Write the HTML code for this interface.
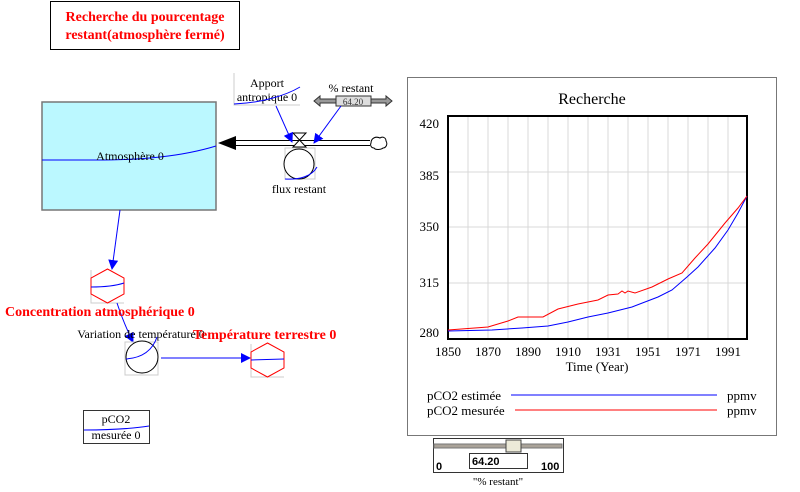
<!DOCTYPE html>
<html><head><meta charset="utf-8"><style>
html,body{margin:0;padding:0;background:#fff;}
svg{display:block;font-family:"Liberation Serif",serif;}
</style></head><body>
<svg width="800" height="492" viewBox="0 0 800 492" xmlns="http://www.w3.org/2000/svg">
<defs>
<marker id="ab" markerWidth="10" markerHeight="10" refX="9" refY="5" orient="auto" markerUnits="userSpaceOnUse"><path d="M0,0 L10,5 L0,10 z" fill="#0000ff"/></marker>
</defs>
<!-- title -->
<rect x="50.5" y="1.5" width="189" height="48" fill="#fff" stroke="#000"/>
<text x="145" y="21" text-anchor="middle" font-size="14" font-weight="bold" fill="#ff0000">Recherche du pourcentage</text>
<text x="145" y="39" text-anchor="middle" font-size="14" font-weight="bold" fill="#ff0000">restant(atmosphère fermé)</text>

<!-- stock -->
<rect x="42" y="102" width="174" height="108" fill="#bbf8ff" stroke="#777" stroke-width="1.5"/>
<path d="M42,160 L95,160 C140,160 180,157 216,146" fill="none" stroke="#0000ff"/>
<text x="130" y="160" text-anchor="middle" font-size="12">Atmosphère 0</text>

<!-- flow pipe -->
<line x1="232" y1="140.5" x2="370" y2="140.5" stroke="#000"/>
<line x1="232" y1="145.5" x2="370" y2="145.5" stroke="#000"/>
<path d="M218,143 L236,136 L236,150 z" fill="#000"/>
<path d="M371,143 c0,-5 5,-7 9,-5 c3,-2 6,0 6,3 c2,3 0,7 -3,7 c-2,2 -8,2 -9,0 c-3,0 -4,-3 -3,-5z" fill="#fff" stroke="#000"/>
<path d="M293,133 L306,133 L293,147 L306,147 z" fill="#fff" stroke="#000"/>
<rect x="285" y="148" width="30" height="31" fill="none" stroke="#ccc"/>
<circle cx="299" cy="164" r="15" fill="#fff" stroke="#000"/>
<path d="M285,179 C300,180 312,176 317,167" fill="none" stroke="#0000ff"/>
<text x="299" y="193" text-anchor="middle" font-size="12">flux restant</text>

<!-- Apport -->
<path d="M234,73 L234,105 L300,105" fill="none" stroke="#ccc"/>
<text x="267" y="87" text-anchor="middle" font-size="12">Apport</text>
<text x="267" y="101" text-anchor="middle" font-size="12">antropique 0</text>
<path d="M234,104 C260,103 285,96 300,87" fill="none" stroke="#0000ff"/>
<line x1="276" y1="106" x2="292" y2="142" stroke="#0000ff" marker-end="url(#ab)"/>

<!-- % restant -->
<text x="351" y="92" text-anchor="middle" font-size="12">% restant</text>
<path d="M314,101 L320,96 L320,99 L386,99 L386,96 L392,101 L386,106 L386,103 L320,103 L320,106 z" fill="#999" stroke="#333"/>
<rect x="336" y="96" width="35" height="10" fill="#ddd" stroke="#333"/>
<text x="353" y="105" text-anchor="middle" font-size="9" fill="#333">64.20</text>
<line x1="341" y1="106" x2="314" y2="143" stroke="#0000ff" marker-end="url(#ab)"/>

<!-- stock to concentration -->
<line x1="120" y1="210" x2="112" y2="269" stroke="#0000ff" marker-end="url(#ab)"/>

<!-- Concentration hex -->
<path d="M91,270 L91,303 L124,303" fill="none" stroke="#ccc"/>
<path d="M107.5,269 L124,278 L124,294 L107.5,303 L91,294 L91,278 z" fill="#fff" stroke="#ff0000"/>
<path d="M91,287 C105,287 115,286 124,283" fill="none" stroke="#0000ff"/>
<path d="M117,303 C122,318 127,330 133,342" fill="none" stroke="#0000ff" marker-end="url(#ab)"/>

<!-- Variation -->
<text x="141" y="338" text-anchor="middle" font-size="12">Variation de température 0</text>
<rect x="125" y="342" width="33" height="33" fill="none" stroke="#ccc"/>
<circle cx="142" cy="357" r="16" fill="#fff" stroke="#000"/>
<path d="M126,359 C140,358 152,352 157,337" fill="none" stroke="#0000ff"/>
<text x="5" y="316" font-size="14" font-weight="bold" fill="#ff0000">Concentration atmosphérique 0</text>
<line x1="161" y1="358" x2="250" y2="358" stroke="#0000ff" marker-end="url(#ab)"/>

<!-- Temperature hex -->
<path d="M251,344 L251,377 L284,377" fill="none" stroke="#ccc"/>
<path d="M267.5,343 L284,352 L284,368 L267.5,377 L251,368 L251,352 z" fill="#fff" stroke="#ff0000"/>
<path d="M251,360 L284,359" fill="none" stroke="#0000ff"/>
<text x="193" y="339" font-size="14" font-weight="bold" fill="#ff0000">Température terrestre 0</text>

<!-- pCO2 mesurée -->
<rect x="83.5" y="410.5" width="66" height="33" fill="#fff" stroke="#333"/>
<path d="M84,430 C110,430 130,429 149,426" fill="none" stroke="#0000ff"/>
<text x="116" y="423" text-anchor="middle" font-size="12">pCO2</text>
<text x="116" y="439" text-anchor="middle" font-size="12">mesurée 0</text>

<!-- chart -->
<rect x="407.5" y="77.5" width="369" height="358" fill="#fff" stroke="#777"/>
<text x="592" y="104" text-anchor="middle" font-size="16">Recherche</text>
<g stroke="#d8d8d8" stroke-width="1">
<line x1="468" y1="116" x2="468" y2="339"/><line x1="488" y1="116" x2="488" y2="339"/><line x1="508" y1="116" x2="508" y2="339"/><line x1="528" y1="116" x2="528" y2="339"/><line x1="548" y1="116" x2="548" y2="339"/><line x1="568" y1="116" x2="568" y2="339"/><line x1="588" y1="116" x2="588" y2="339"/><line x1="608" y1="116" x2="608" y2="339"/><line x1="628" y1="116" x2="628" y2="339"/><line x1="648" y1="116" x2="648" y2="339"/><line x1="668" y1="116" x2="668" y2="339"/><line x1="688" y1="116" x2="688" y2="339"/><line x1="708" y1="116" x2="708" y2="339"/><line x1="728" y1="116" x2="728" y2="339"/>
<line x1="448" y1="172" x2="747" y2="172"/><line x1="448" y1="227" x2="747" y2="227"/><line x1="448" y1="283" x2="747" y2="283"/>
</g>
<rect x="448" y="116" width="299" height="223" fill="none" stroke="#000" stroke-width="2"/>
<g font-size="13" text-anchor="end">
<text x="439" y="128">420</text><text x="439" y="180">385</text><text x="439" y="231">350</text><text x="439" y="287">315</text><text x="439" y="337">280</text>
</g>
<g font-size="13" text-anchor="middle">
<text x="448" y="356">1850</text><text x="488" y="356">1870</text><text x="528" y="356">1890</text><text x="568" y="356">1910</text><text x="608" y="356">1931</text><text x="648" y="356">1951</text><text x="688" y="356">1971</text><text x="728" y="356">1991</text>
<text x="597" y="371">Time (Year)</text>
</g>
<polyline fill="none" stroke="#0000ff" points="448,331 492,330 522,328 548,326 568,322 588,317 608,313 632,307 658,297 672,290 687,277 698,267 715,248 728,230 738,213 747,196"/>
<polyline fill="none" stroke="#ff0000" points="448,330 488,327 508,321 518,317 543,317 558,309 578,304 598,300 608,295 618,294 622,291 625,293 628,291 635,293 652,287 668,279 682,273 695,258 708,244 725,223 738,208 747,196"/>
<g font-size="13">
<text x="427" y="400">pCO2 estimée</text><text x="427" y="415">pCO2 mesurée</text>
<text x="727" y="400">ppmv</text><text x="727" y="415">ppmv</text>
</g>
<line x1="511" y1="395" x2="717" y2="395" stroke="#0000ff"/>
<line x1="515" y1="410" x2="717" y2="410" stroke="#ff0000"/>

<!-- slider -->
<rect x="433.5" y="438.5" width="130" height="34" fill="#fff" stroke="#333"/>
<rect x="434" y="444" width="128" height="4" fill="#aaa399" stroke="#777"/>
<rect x="506" y="440" width="15" height="12" fill="#ecead8" stroke="#444"/>
<rect x="469.5" y="453.5" width="58" height="15" fill="#fff" stroke="#333"/>
<g font-family="Liberation Sans, sans-serif" font-weight="bold" font-size="11">
<text x="472" y="465">64.20</text>
<text x="436" y="470">0</text>
<text x="541" y="470">100</text>
</g>
<text x="498" y="485" text-anchor="middle" font-size="11">"% restant"</text>
</svg>
</body></html>
